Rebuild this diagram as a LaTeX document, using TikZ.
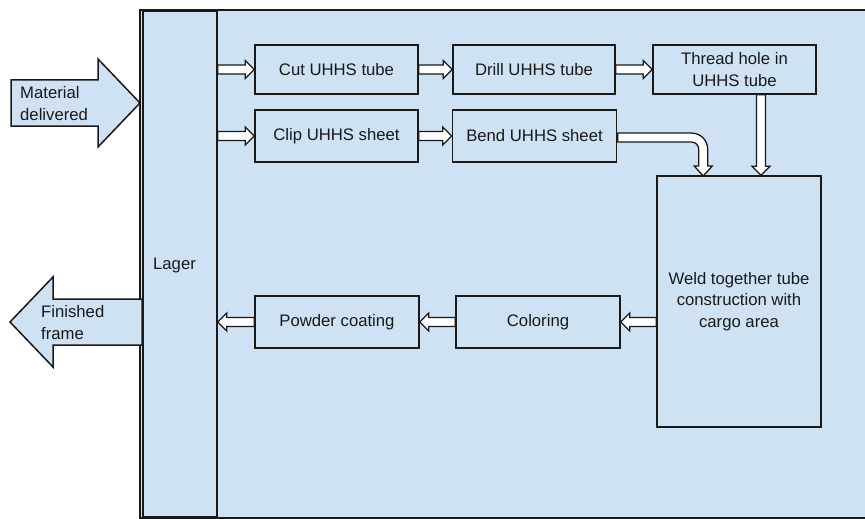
\documentclass[tikz,border=0pt]{standalone}
\usepackage{fontspec}
\setmainfont{Liberation Sans}
\usetikzlibrary{calc}
\definecolor{lb}{RGB}{207,226,243}
\begin{document}
\begin{tikzpicture}[x=1pt,y=-1pt,
  txt/.style={font=\fontsize{16.7}{21.5}\selectfont, text=black!90},
  box/.style={txt, draw=black!90, line width=1.5pt, fill=lb, inner sep=0pt, align=center},
  bigarrow/.style={draw=black!90, line width=1.5pt, fill=lb, line join=miter},
  barrow/.style={draw=black!90, line width=1.3pt, fill=white, line join=miter, to path={
     ($(\tikztotarget)!9pt!(\tikztostart)$) coordinate (bah)
     ($(\tikztostart)!4.5pt!90:(\tikztotarget)$) -- ($(bah)!4.5pt!90:(\tikztotarget)$)
     -- ($(bah)!9pt!90:(\tikztotarget)$) -- (\tikztotarget)
     -- ($(bah)!9pt!-90:(\tikztotarget)$) -- ($(bah)!4.5pt!-90:(\tikztotarget)$)
     -- ($(\tikztostart)!4.5pt!-90:(\tikztotarget)$) -- cycle}},
  curvearrow/.style={draw=black!90, line width=1.3pt, fill=white, line join=miter}
]
\useasboundingbox (0,0) rectangle (865,519);
% outer frame
\draw[bigarrow] (140,10) rectangle (868,518);
% Lager column
\node[box, minimum width=74pt, minimum height=506pt] (lager) at (180,264) {};
\node[txt] (lagertxt) at (174.5,265) {Lager};
% process boxes
\node[box, minimum width=163pt, minimum height=49pt] (cut) at (336.5,69.5) {Cut UHHS tube};
\node[box, minimum width=162pt, minimum height=49pt] (drill) at (534,69.5) {Drill UHHS tube};
\node[box, minimum width=163pt, minimum height=49pt] (thread) at (734.5,69.5) {Thread hole in\\UHHS tube};
\node[box, minimum width=163pt, minimum height=52pt] (clip) at (336.5,136) {Clip UHHS sheet};
\node[box, minimum width=164pt, minimum height=52pt] (bend) at (534.5,136) {Bend UHHS sheet};
\node[box, minimum width=164pt, minimum height=251pt] (weld) at (739,301.5) {Weld together tube\\construction with\\cargo area};
\node[box, minimum width=164pt, minimum height=52pt] (coloring) at (538,322) {Coloring};
\node[box, minimum width=164pt, minimum height=52pt] (powder) at (337,322) {Powder coating};
% big in/out arrows
\draw[bigarrow] (11,80) -- (98,80) -- (98,59) -- (140,103) -- (98,147) -- (98,126) -- (11,126) -- cycle;
\node[txt, anchor=west, align=left, inner sep=0pt] (mat) at (20,103.5) {Material\\delivered};
\draw[bigarrow] (142,299) -- (53,299) -- (53,277) -- (10,322) -- (53,367) -- (53,345) -- (142,345) -- cycle;
\node[txt, anchor=west, align=left, inner sep=0pt] (fin) at (41,322.5) {Finished\\frame};
% connectors
\coordinate (vx) at (761,0);
\draw[barrow] (lager.east |- cut.west) to (cut.west);
\draw[barrow] (cut.east) to (drill.west);
\draw[barrow] (drill.east) to (thread.west);
\draw[barrow] (lager.east |- clip.west) to (clip.west);
\draw[barrow] (clip.east) to (bend.west);
\draw[barrow] (thread.south -| vx) to (weld.north -| vx);
\draw[barrow] (weld.west |- coloring.east) to (coloring.east);
\draw[barrow] (coloring.west) to (powder.east);
\draw[barrow] (powder.west) to (lager.east |- powder.west);
\draw[curvearrow, shift={(bend.east)}]
  (0.5,-3) -- (73.5,-3) .. controls (83.5,-3) and (90.5,4) .. (90.5,14) -- (90.5,30)
  -- (95,30) -- (86,40) -- (77,30) -- (81.5,30) -- (81.5,14)
  .. controls (81.5,9) and (78.5,6) .. (73.5,6) -- (0.5,6) -- cycle;
\end{tikzpicture}
\end{document}
